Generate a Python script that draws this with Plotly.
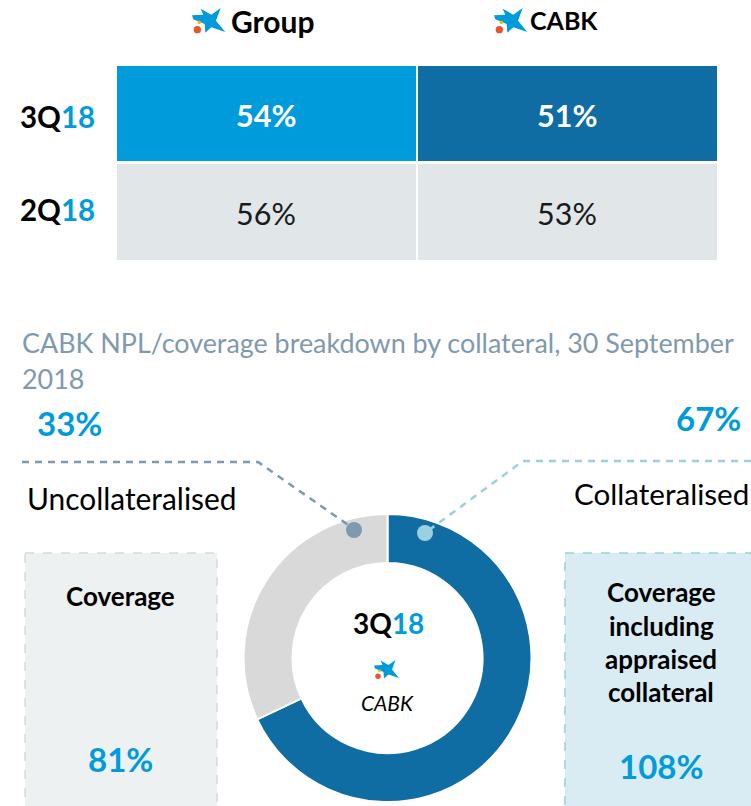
import plotly.graph_objects as go

W, H = 751, 806
# ---- data ----
table_columns = ["Group", "CABK"]
table_rows = ["3Q18", "2Q18"]
table_values = [[54, 51], [56, 53]]
donut_labels = ["Collateralised", "Uncollateralised"]
donut_shares = [68, 32]      # share as drawn in the ring
donut_printed = [67, 33]     # share as printed beside the ring
coverage_uncollateralised = 81
coverage_collateralised = 108

BLUE = "#009BDB"; DARK = "#0F6DA3"; GREY = "#E1E6E9"; SLATE = "#7F99AE"; PALE = "#9BD0E0"
FONT = "Lato"

def px(x): return x / W
def py(y): return 1 - y / H

fig = go.Figure()

scale_lo, scale_hi = 51, 56
fig.add_trace(go.Heatmap(
    z=table_values, x=table_columns, y=table_rows, xgap=2, ygap=3, showscale=False,
    zmin=scale_lo, zmax=scale_hi, hoverinfo="skip",
    colorscale=[[0, DARK], [0.2, DARK], [0.2, GREY], [0.5, GREY], [0.5, BLUE], [0.7, BLUE], [0.7, GREY], [1, GREY]],
))

fig.add_trace(go.Pie(
    labels=donut_labels, values=donut_shares, hole=0.66, sort=False, direction="clockwise", rotation=0,
    marker=dict(colors=[DARK, "#D9D9D9"], line=dict(color="white", width=2)),
    textinfo="none", hoverinfo="skip", showlegend=False,
    domain=dict(x=[px(243.5), px(531.5)], y=[py(802), py(514)]),
))

for r, row in enumerate(table_rows):
    for c, col in enumerate(table_columns):
        fig.add_annotation(xref="x", yref="y", x=col, y=row, text=f"{table_values[r][c]}%", showarrow=False,
                           xshift=-1, yshift=-0.5, yanchor="middle",
                           font=dict(family=FONT, size=30.5, color="white" if r == 0 else "#1a1a1a",
                                     weight="bold" if r == 0 else "normal"))

def ann(x, y, text, size, color="black", bold=False, italic=False, anchor="left"):
    t = f"<i>{text}</i>" if italic else text
    fig.add_annotation(xref="paper", yref="paper", x=px(x), y=py(y), text=t, showarrow=False,
                       xanchor=anchor, yanchor="middle", align=anchor, xshift=-1 if anchor == "left" else 0,
                       font=dict(family=FONT, size=size, color=color, weight="bold" if bold else "normal"))

def q(label):
    return f'{label[:2]}<span style="color:{BLUE}">{label[2:]}</span>'

ann(230, 21, table_columns[0], 30, bold=True)
ann(529, 20, table_columns[1], 25, bold=True)
ann(57.5, 116, q(table_rows[0]), 29.5, bold=True, anchor="center")
ann(57.5, 209, q(table_rows[1]), 29.5, bold=True, anchor="center")
ann(21, 343, "CABK NPL/coverage breakdown by collateral, 30 September", 26.9, SLATE)
ann(21, 378, "2018", 26.9, SLATE)
ann(36, 423, f"{donut_printed[1]}%", 33, BLUE, bold=True)
ann(675, 418, f"{donut_printed[0]}%", 33, BLUE, bold=True)
ann(26, 498, donut_labels[1], 29.9)
ann(573, 493, donut_labels[0], 29.6)
ann(120.5, 596, "Coverage", 26, bold=True, anchor="center")
ann(120.5, 759, f"{coverage_uncollateralised}%", 33, BLUE, bold=True, anchor="center")
for yy, line in zip([592, 626, 659, 692], ["Coverage", "including", "appraised", "collateral"]):
    ann(661, yy, line, 26, bold=True, anchor="center")
ann(661, 766, f"{coverage_collateralised}%", 33, BLUE, bold=True, anchor="center")
ann(388, 623, q(table_rows[0]), 28, bold=True, anchor="center")
ann(387.5, 702, "CABK", 21, italic=True, anchor="center")

shapes = []
def rect(x0, y0, x1, y1, fill, line):
    shapes.append(dict(type="rect", xref="paper", yref="paper", x0=px(x0), x1=px(x1), y0=py(y0), y1=py(y1),
                       fillcolor=fill, line=dict(color=line, width=1.5, dash="dash"), layer="below"))
rect(25, 553, 217, 807, "#EEF1F2", "#D5DADC")
rect(565, 553, 752, 807, "#D9ECF3", PALE)

def polyline(pts, color):
    d = "M" + " L".join(f"{px(a):.5f},{py(b):.5f}" for a, b in pts)
    shapes.append(dict(type="path", xref="paper", yref="paper", path=d, line=dict(color=color, width=2.5, dash="7px,6px")))
polyline([(22, 462), (258, 462), (354, 529)], SLATE)
polyline([(751, 461), (523, 461), (425, 533)], PALE)

def dot(cx, cy, r, color):
    shapes.append(dict(type="circle", xref="paper", yref="paper", x0=px(cx - r), x1=px(cx + r),
                       y0=py(cy - r), y1=py(cy + r), fillcolor=color, line=dict(width=0)))
dot(354, 530, 8, SLATE)
dot(425, 533, 8, PALE)

STAR = [(66, 46), (100, 44), (92, 26), (124, 44), (152, 24), (138, 62), (166, 96), (124, 82), (106, 98), (104, 72), (70, 58)]
def logo(x0, y0, s):
    pts = [(x0 + a * s, y0 + b * s) for a, b in STAR]
    d = "M" + " L".join(f"{px(a):.5f},{py(b):.5f}" for a, b in pts) + " Z"
    shapes.append(dict(type="path", xref="paper", yref="paper", path=d, fillcolor=BLUE, line=dict(width=0)))
    dot(x0 + 82 * s, y0 + 89 * s, 11 * s, "#E8562A")
    dot(x0 + 88 * s, y0 + 67 * s, 5.5 * s, "#F7B500")
logo(170, 0, 1 / 3)
logo(472, 0, 1 / 3)
logo(357.5, 654, 0.25)

fig.update_layout(
    width=W, height=H, margin=dict(l=0, r=0, t=0, b=0), paper_bgcolor="white", plot_bgcolor="white",
    showlegend=False, shapes=shapes,
    xaxis=dict(domain=[px(116), px(718)], visible=False, type="category", anchor="y"),
    yaxis=dict(domain=[py(261.5), py(65)], visible=False, type="category", autorange="reversed", anchor="x"),
)
fig.write_html("out.html", config=dict(displayModeBar=False),
               post_script="document.body.style.margin='0';document.body.style.overflow='hidden';")
